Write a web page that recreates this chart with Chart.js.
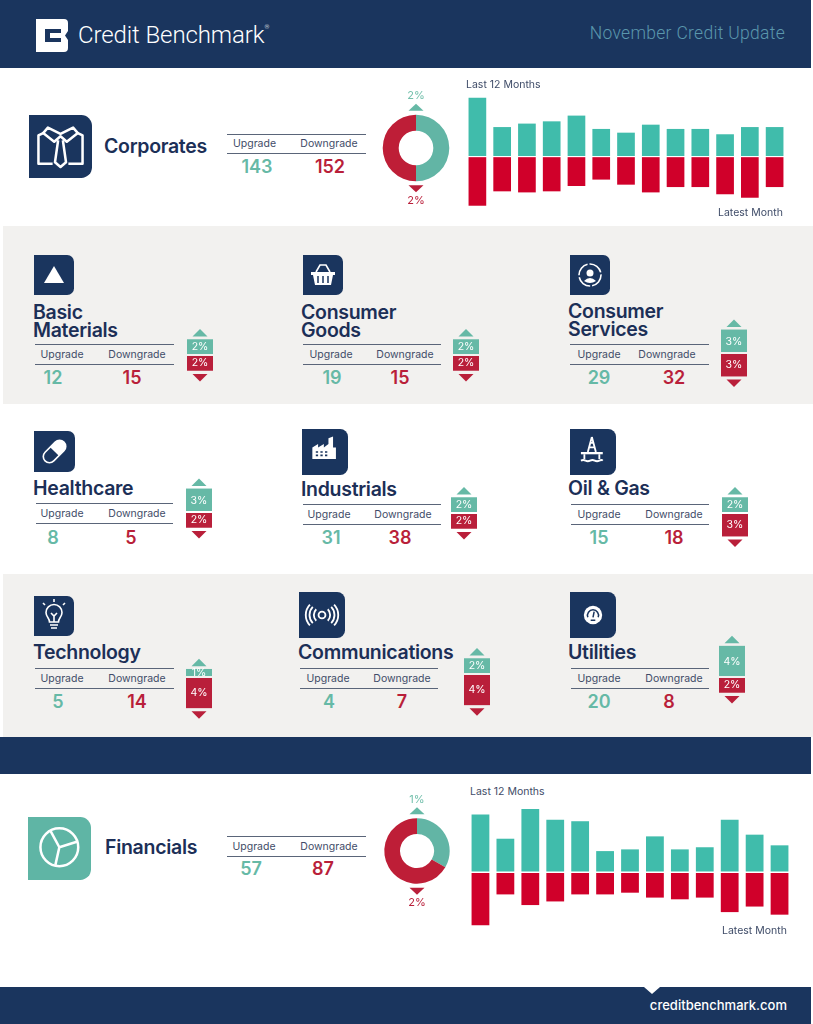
<!DOCTYPE html>
<html lang="en">
<head>
<meta charset="UTF-8">
<title>November Credit Update</title>
<script src="https://cdn.jsdelivr.net/npm/chart.js"></script>
<style>
    :root { --navy: #1a355e; --teal: #66b9a6; --red: #b91f3a; --grey: #f2f1ef; }
    html, body { margin: 0; padding: 0; background: #fff; }
    #page { position: relative; width: 813px; height: 1024px; overflow: hidden; font-family: Inter, sans-serif; color: #1c2f57; }
    #page > * { position: absolute; }
    .band { left: 0; width: 811px; background: var(--navy); }
    .grey { left: 3px; width: 810px; background: var(--grey); }
    .title { font-weight: 600; font-size: 19.5px; line-height: 18px; white-space: pre; letter-spacing: -0.3px; }
    .label { font-size: 10.5px; line-height: 12px; color: #3f4c68; transform: translate(-50%, -50%); white-space: nowrap; }
    .note { font-size: 10.5px; line-height: 12px; color: #3f4c68; white-space: nowrap; }
    .num { font-weight: 600; font-size: 18px; line-height: 20px; transform: translate(-50%, -50%); }
    .rule { height: 1px; background: #5a6579; }
    .icon { background: var(--navy); }
    .icon svg { display: block; width: 100%; height: 100%; }
    canvas { display: block; }
</style>
</head>
<body>
<div id="page">
    <div class="band" style="top:0;height:68px"></div>
    <div class="grey" style="top:226px;height:178px"></div>
    <div class="grey" style="top:574px;height:163px"></div>
    <div class="band" style="top:737px;height:37px"></div>
    <div class="band" style="top:987px;height:37px"></div>
    <svg style="left:644px;top:987px" width="16" height="7"><path d="M0 0H16L8 7Z" fill="#fff"/></svg>

    <svg style="left:36px;top:19px" width="33" height="33" viewBox="0 0 33 33">
        <path d="M0 0H28Q32 0 32 4V12L29 16.500L32 21V29Q32 33 28 33H0ZM9 10V23H25V19H14V14H25V10Z" fill="#fff" fill-rule="evenodd"/>
    </svg>
    <div style="left:78px;top:20px;font:300 24px/30px Roboto,sans-serif;color:#fff;letter-spacing:-0.1px">Credit Benchmark<sup style="font-size:6px;vertical-align:14px;line-height:0">®</sup></div>
    <div style="right:28px;top:22px;font:300 17.5px/22px Roboto,sans-serif;color:#5a97ad;letter-spacing:0.3px">November Credit Update</div>
    <div style="right:26px;top:996px;font:500 13px/18px Inter,sans-serif;color:#fff;letter-spacing:0.02px">creditbenchmark.com</div>
</div>

<script>
    // sectors
    const sectorNames = ['Basic\nMaterials', 'Consumer\nGoods', 'Consumer\nServices', 'Healthcare', 'Industrials', 'Oil & Gas', 'Technology', 'Communications', 'Utilities'];
    const sectorUpgrades = [12, 19, 29, 8, 31, 15, 5, 4, 20];
    const sectorDowngrades = [15, 15, 32, 5, 38, 18, 14, 7, 8];
    const sectorUpPct = [2, 2, 3, 3, 2, 2, 1, 2, 4];
    const sectorDownPct = [2, 2, 3, 2, 2, 3, 4, 4, 2];

    // corporates and financials
    const corporatesUpgrade = 143;
    const corporatesDowngrade = 152;
    const corporatesUpPct = 2;
    const corporatesDownPct = 2;
    const financialsUpgrade = 57;
    const financialsDowngrade = 87;
    const financialsUpPct = 1;
    const financialsDownPct = 2;

    const corporatesUp = [4.42, 2.22, 2.48, 2.65, 3.08, 2.08, 1.80, 2.40, 2.08, 2.08, 1.68, 2.22, 2.22];
    const corporatesDown = [3.68, 2.60, 2.68, 2.60, 2.20, 1.72, 2.10, 2.68, 2.28, 2.28, 2.82, 3.08, 2.28];
    const financialsUp = [2.70, 1.56, 2.95, 2.45, 2.38, 0.98, 1.06, 1.67, 1.06, 1.16, 2.45, 1.75, 1.25];
    const financialsDown = [2.50, 1.05, 1.55, 1.38, 1.05, 1.05, 0.97, 1.20, 1.28, 1.20, 1.88, 1.62, 2.00];
    const monthLabels = ['1', '2', '3', '4', '5', '6', '7', '8', '9', '10', '11', '12', '13'];

    const NAVY = '#1a355e', TEAL = '#66b9a6', RED = '#b91f3a', GREY = '#f2f1ef';
    const BAR_TEAL = '#40bcab', BAR_RED = '#d0002a';
    const page = document.getElementById('page');

    function add(className, left, top, text, style) {
        const el = document.createElement('div');
        el.className = className;
        el.style.left = left + 'px';
        el.style.top = top + 'px';
        if (text !== undefined) el.textContent = text;
        Object.assign(el.style, style || {});
        page.appendChild(el);
        return el;
    }

    function addCanvas(left, top, width, height) {
        const canvas = document.createElement('canvas');
        canvas.width = width;
        canvas.height = height;
        canvas.style.left = left + 'px';
        canvas.style.top = top + 'px';
        canvas.style.width = width + 'px';
        canvas.style.height = height + 'px';
        page.appendChild(canvas);
        return canvas;
    }

    function triangle(ctx, cx, y, width, height, color) {
        // height > 0 points down, height < 0 points up
        ctx.fillStyle = color;
        ctx.beginPath();
        ctx.moveTo(cx - width / 2, y);
        ctx.lineTo(cx + width / 2, y);
        ctx.lineTo(cx, y + height);
        ctx.closePath();
        ctx.fill();
    }

    // grid only shows the zero line, on top of the bars, as the gap between teal and red
    function zeroLine(color, width) {
        return {
            z: 1,
            lineWidth: width,
            drawTicks: false,
            color: (c) => (c.tick && c.tick.value === 0 ? color : 'rgba(0,0,0,0)')
        };
    }

    // little up/down bar next to each sector
    const sectorBarPlugin = {
        id: 'sectorBar',
        afterDraw(chart) {
            const { ctx, scales } = chart;
            const cx = (chart.chartArea.left + chart.chartArea.right) / 2;
            const up = chart.data.datasets[0].data[0];
            const down = chart.data.datasets[1].data[0];
            const y0 = scales.y.getPixelForValue(0);
            const yUp = scales.y.getPixelForValue(up);
            const yDown = scales.y.getPixelForValue(down);
            ctx.save();
            triangle(ctx, cx, yUp - 3, 15, -7.5, TEAL);
            triangle(ctx, cx, yDown + 3.5, 15, 7.5, RED);
            ctx.font = '400 10.5px Inter, sans-serif';
            ctx.textAlign = 'center';
            ctx.textBaseline = 'middle';
            ctx.fillStyle = '#fff';
            ctx.fillText(up + '%', cx, (yUp + y0) / 2);
            ctx.fillText(-down + '%', cx, (yDown + y0) / 2);
            ctx.restore();
        }
    };

    function sectorBar(centerX, baseline, up, down, bg) {
        const canvas = addCanvas(centerX - 13, baseline - 43, 26, 86);
        return new Chart(canvas, {
            type: 'bar',
            data: {
                labels: ['pct'],
                datasets: [
                    { data: [up], backgroundColor: TEAL, stack: 's' },
                    { data: [-down], backgroundColor: RED, stack: 's' }
                ]
            },
            options: {
                responsive: false,
                animation: false,
                layout: { padding: 0 },
                plugins: { legend: { display: false }, tooltip: { enabled: false } },
                datasets: { bar: { categoryPercentage: 1, barPercentage: 1 } },
                scales: {
                    x: { display: false, stacked: true },
                    y: {
                        stacked: true,
                        min: -5.58,
                        max: 5.58,
                        border: { display: false },
                        ticks: { display: false, stepSize: 1 },
                        grid: zeroLine(bg, 2)
                    }
                }
            },
            plugins: [sectorBarPlugin]
        });
    }

    const doughnutPlugin = {
        id: 'doughnutMarks',
        afterDraw(chart) {
            const { ctx } = chart;
            const arc = chart.getDatasetMeta(0).data[0];
            const [up, down] = chart.data.datasets[0].data;
            const r = arc.outerRadius;
            ctx.save();
            triangle(ctx, arc.x, arc.y - r - 4, 15, -7, TEAL);
            triangle(ctx, arc.x, arc.y + r + 4, 15, 7, RED);
            ctx.font = '400 11px Inter, sans-serif';
            ctx.textAlign = 'center';
            ctx.textBaseline = 'middle';
            ctx.fillStyle = '#74c0ac';
            ctx.fillText(up + '%', arc.x, arc.y - r - 19);
            ctx.fillStyle = RED;
            ctx.fillText(down + '%', arc.x, arc.y + r + 19);
            ctx.restore();
        }
    };

    function doughnut(cx, cy, radius, up, down) {
        const canvas = addCanvas(cx - 50, cy - 65, 100, 130);
        const pad = 65 - radius;
        return new Chart(canvas, {
            type: 'doughnut',
            data: {
                labels: ['Upgrade', 'Downgrade'],
                datasets: [{ data: [up, down], backgroundColor: ['#62b5a5', '#be1e37'], borderWidth: 0 }]
            },
            options: {
                responsive: false,
                animation: false,
                cutout: '52%',
                layout: { padding: { top: pad, bottom: pad } },
                plugins: { legend: { display: false }, tooltip: { enabled: false } }
            },
            plugins: [doughnutPlugin]
        });
    }

    function monthlyBars(left, top, width, height, up, down, min, max, barWidth) {
        const canvas = addCanvas(left, top, width, height);
        return new Chart(canvas, {
            type: 'bar',
            data: {
                labels: monthLabels,
                datasets: [
                    { label: 'Upgrade', data: up, backgroundColor: BAR_TEAL, stack: 's' },
                    { label: 'Downgrade', data: down.map((v) => -v), backgroundColor: BAR_RED, stack: 's' }
                ]
            },
            options: {
                responsive: false,
                animation: false,
                layout: { padding: 0 },
                plugins: { legend: { display: false }, tooltip: { enabled: false } },
                scales: {
                    x: { display: false, stacked: true },
                    y: {
                        stacked: true,
                        min: min,
                        max: max,
                        border: { display: false },
                        ticks: { display: false, stepSize: 1 },
                        grid: zeroLine('#fff', 1)
                    }
                },
                datasets: { bar: { categoryPercentage: 1, barPercentage: barWidth } }
            }
        });
    }

    const W = 'fill="#fff"';
    const S = 'fill="none" stroke="#fff" stroke-width="1.6"';
    const icons = {
        shirt: `<g ${S} stroke-width="1.2" stroke-linejoin="round"><path d="M10 11L6 13V31H15M30 11L34 13V31H25"/><path d="M12 8L20 12L28 8L31 11.500L24 17L20 13.500L16 17L9 11.500Z"/><path d="M18.500 16L16.500 30L20 33L23.500 30L21.500 16"/></g>`,
        triangle: `<path d="M20 11L30 28H10Z" ${W}/>`,
        basket: `<path d="M13 17L17 10H23L27 17" ${S}/><path d="M8 17H32V20H30L28 30H12L10 20H8Z" ${W}/><path d="M15 21V28M20 21V28M25 21V28" stroke="#1a355e" stroke-width="1.5"/>`,
        services: `<circle cx="20" cy="20" r="11" ${S} stroke-width="3" stroke-dasharray="15 2"/><circle cx="20" cy="18" r="3.500" ${W}/><path d="M14 26Q20 20 26 26Q20 30 14 26Z" ${W}/>`,
        pill: `<g transform="rotate(-45 20 20)"><rect x="7" y="14" width="26" height="12" rx="6" ${S} stroke-width="2"/><path d="M20 14H27A6 6 0 0 1 27 26H20Z" ${W}/></g>`,
        factory: `<path d="M9 26V16L14 13V16L19 13V16L23 13V8L27 6.500V16L29.500 16V26Z" ${W}/><path d="M12 20H14M16 20H18M20 20H22M12 23H14M16 23H18M20 23H22" stroke="#1a355e" stroke-width="1.5"/>`,
        rig: `<path d="M9.500 20H28.500V22H9.500Z" ${W}/><path d="M19 7L15.500 20M19 7L22.500 20M16.500 16H21.500M17.500 12H20.500M12.500 22V26M25.500 22V26" ${S} stroke-width="1.3"/><path d="M9.500 27.500Q11.500 26.500 13.500 27.500T17.500 27.500T21.500 27.500T25.500 27.500T28.500 27.500" ${S} stroke-width="0.9"/>`,
        bulb: `<path d="M15.500 26C15.500 22 12 21 12 16.500A8 8 0 0 1 28 16.500C28 21 24.500 22 24.500 26Z" ${S}/><path d="M16 29H24M17 32H23M17 17L20 20L23 17M20 20V26M20 3V6M9 7L11 9M31 7L29 9" ${S}/>`,
        waves: `<circle cx="20" cy="20" r="3" ${S} stroke-width="1.3"/><path d="M15 15A7 7 0 0 0 15 25M25 15A7 7 0 0 1 25 25M12 13A10 10 0 0 0 12 27M28 13A10 10 0 0 1 28 27M9.500 11A13 13 0 0 0 9.500 29M30.500 11A13 13 0 0 1 30.500 29" ${S} stroke-width="1.3"/>`,
        gauge: `<circle cx="20" cy="20" r="8" ${W}/><path d="M15.500 22A4.800 4.800 0 1 1 24.500 22M20 22L21 17M18 24.500H22" fill="none" stroke="#1a355e" stroke-width="1.300"/>`,
        pie: `<circle cx="19.900" cy="19.200" r="12" ${S} stroke-width="2.100"/><path d="M19.900 19.200L14.200 8.600M19.900 19.200L31.500 15.600M19.900 19.200L17.400 30.400" ${S} stroke-width="1.800"/>`
    };

    function addIcon(name, left, top, size, color) {
        const el = add('icon', left, top, undefined, {
            width: size + 'px',
            height: size + 'px',
            borderRadius: `0 ${size * 0.17}px ${size * 0.17}px 0`,
            background: color || NAVY
        });
        el.innerHTML = `<svg viewBox="0 0 40 40">${icons[name]}</svg>`;
    }

    // one block of rules, captions and counts
    function countTable(x1, x2, ruleTop, ruleBottom, labelUp, labelDown, numUp, numDown, numY, up, down) {
        add('rule', x1, ruleTop, undefined, { width: x2 - x1 + 'px' });
        add('rule', x1, ruleBottom, undefined, { width: x2 - x1 + 'px' });
        const labelY = (ruleTop + ruleBottom) / 2 + 0.5;
        add('label', labelUp, labelY, 'Upgrade');
        add('label', labelDown, labelY, 'Downgrade');
        add('num', numUp, numY, up, { color: TEAL });
        add('num', numDown, numY, down, { color: RED });
    }

    // where each sector block sits on the page
    const sectorIcons = ['triangle', 'basket', 'services', 'pill', 'factory', 'rig', 'bulb', 'waves', 'gauge'];
    const sectorBoxes = [
        { icon: [34, 255, 40], titleX: 33, titleY: 303, rule: [35, 174, 344, 364], labels: [62, 137], nums: [53, 132, 378], bar: [200, 355], bg: GREY },
        { icon: [303, 255, 40], titleX: 301, titleY: 303, rule: [303, 441, 344, 364], labels: [331, 405], nums: [332, 400, 378], bar: [466, 355], bg: GREY },
        { icon: [570, 255, 40], titleX: 568, titleY: 302, rule: [570, 709, 344, 364], labels: [599, 667], nums: [599, 674, 378], bar: [734, 353], bg: GREY },
        { icon: [34, 431, 41], titleX: 33, titleY: 479, rule: [36, 173, 503, 523], labels: [62, 137], nums: [53, 131, 538], bar: [199, 512], bg: '#fff' },
        { icon: [302, 429, 46], titleX: 301, titleY: 480, rule: [303, 441, 504, 524], labels: [329, 403], nums: [331, 400, 538], bar: [464, 512.500], bg: '#fff' },
        { icon: [570, 429, 46], titleX: 568, titleY: 479, rule: [571, 709, 504, 524], labels: [599, 674], nums: [599, 674, 538], bar: [735, 513], bg: '#fff' },
        { icon: [34, 596, 40], titleX: 33, titleY: 643, rule: [35, 174, 668, 688], labels: [62, 137], nums: [58, 137, 702], bar: [199, 676.500], bg: GREY },
        { icon: [299, 592, 46], titleX: 298, titleY: 643, rule: [300, 438, 668, 688], labels: [328, 402], nums: [329, 402, 702], bar: [477, 673.500], bg: GREY },
        { icon: [570, 592, 46], titleX: 568, titleY: 643, rule: [571, 709, 668, 688], labels: [599, 674], nums: [599, 669, 702], bar: [732, 676.500], bg: GREY }
    ];

    sectorNames.forEach((name, i) => {
        const box = sectorBoxes[i];
        addIcon(sectorIcons[i], box.icon[0], box.icon[1], box.icon[2]);
        add('title', box.titleX, box.titleY, name);
        countTable(box.rule[0], box.rule[1], box.rule[2], box.rule[3], box.labels[0], box.labels[1],
            box.nums[0], box.nums[1], box.nums[2], sectorUpgrades[i], sectorDowngrades[i]);
        sectorBar(box.bar[0], box.bar[1], sectorUpPct[i], sectorDownPct[i], box.bg);
    });

    // corporates
    addIcon('shirt', 29, 115, 63);
    add('title', 104, 137, 'Corporates');
    countTable(227, 366, 134, 153, 254.500, 329, 257, 330, 167, corporatesUpgrade, corporatesDowngrade);
    doughnut(416, 148.300, 33.300, corporatesUpPct, corporatesDownPct);
    monthlyBars(465, 90, 322, 120, corporatesUp, corporatesDown, -4, 5, 0.714);
    add('note', 466, 79, 'Last 12 Months');
    add('note', 718, 207, 'Latest Month');

    // financials
    addIcon('pie', 28, 817, 63, '#5fb5a5');
    add('title', 105, 838, 'Financials');
    countTable(227, 366, 836, 856, 254, 329, 251, 323, 869, financialsUpgrade, financialsDowngrade);
    doughnut(416.700, 850.700, 32.700, financialsUpPct, financialsDownPct);
    monthlyBars(468, 808, 324, 128, financialsUp, financialsDown, -3, 3, 0.714);
    add('note', 470, 786, 'Last 12 Months');
    add('note', 722, 925, 'Latest Month');
</script>
</body>
</html>
